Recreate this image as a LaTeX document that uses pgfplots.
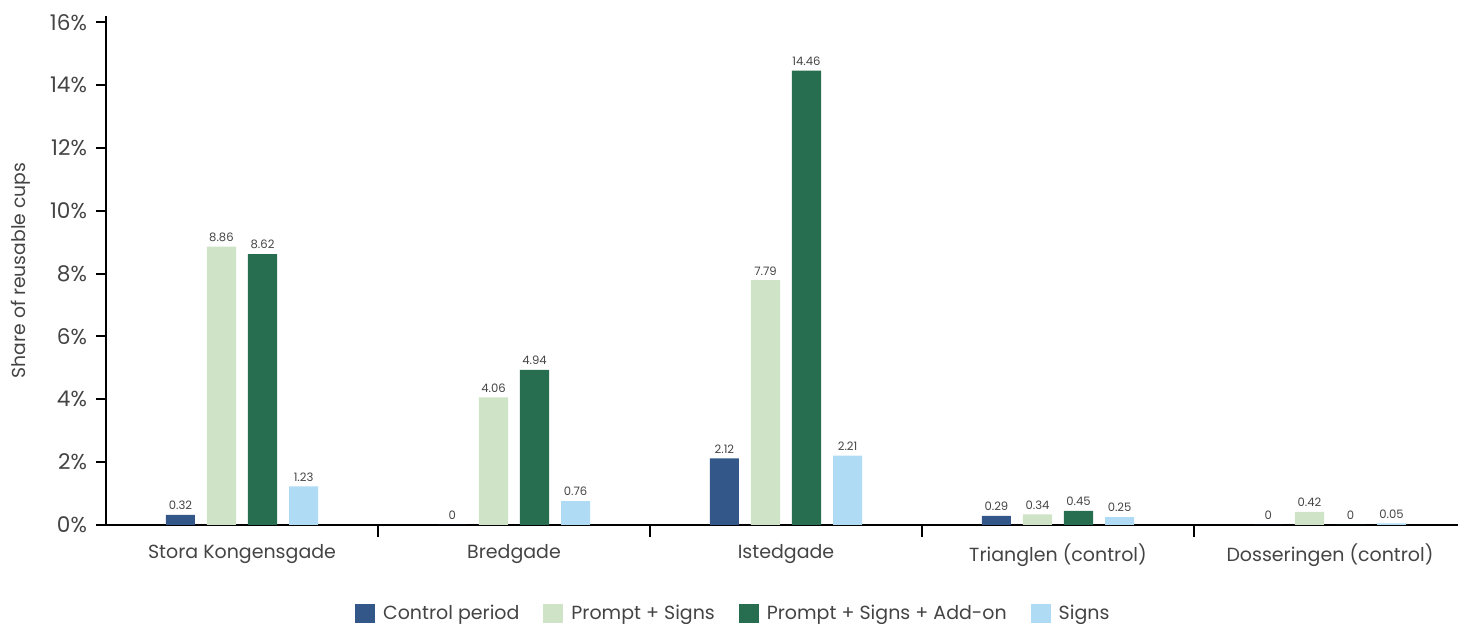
\documentclass[border=0pt]{standalone}
\usepackage{pgfplots}
\pgfplotsset{compat=1.18}
\usepackage{fontspec}
\setmainfont{Poppins}
\definecolor{cctrl}{HTML}{34578A}
\definecolor{cprompt}{HTML}{CFE4C6}
\definecolor{caddon}{HTML}{276E51}
\definecolor{csigns}{HTML}{B0DBF5}
\definecolor{txt}{HTML}{444444}
\begin{document}
\begin{tikzpicture}
% fixed page frame
\path[use as bounding box] (0,0) rectangle (729pt,312pt);
\begin{axis}[
  at={(53pt,49.5pt)}, anchor=south west,
  scale only axis,
  width=680pt, height=254.5pt,
  xmin=-0.5, xmax=4.5,
  ymin=0, ymax=16.2,
  axis x line*=bottom, axis y line*=left,
  axis line style={line width=1.1pt, -},
  xtick={0,1,2,3,4},
  xticklabels={Stora Kongensgade,Bredgade,Istedgade,Trianglen (control),Dosseringen (control)},
  major x tick style={draw=none},
  extra x ticks={0.5,1.5,2.5,3.5},
  extra x tick labels={},
  extra x tick style={major x tick style={draw=black, line width=1pt}, major tick length=6pt, tick align=outside},
  ytick={0,2,4,6,8,10,12,14,16},
  yticklabels={0\%,2\%,4\%,6\%,8\%,10\%,12\%,14\%,16\%},
  ytick style={line width=1pt,black},
  major tick length=5pt, tick align=outside,
  xticklabel style={font=\fontsize{9.5}{11}\selectfont, text=txt, yshift=-1pt},
  yticklabel style={font=\fontsize{10.8}{12}\selectfont, text=txt, xshift=-1pt},
  ylabel={Share of reusable cups},
  ylabel style={font=\fontsize{9.4}{11}\selectfont, text=txt, at={(axis description cs:-0.0625,0.5)}, anchor=center, rotate=0},
  ybar, bar width=0.107,
  point meta=explicit symbolic,
  nodes near coords,
  every node near coord/.append style={font=\fontsize{5.8}{7}\selectfont, text=txt, yshift=-1pt},
  legend style={at={(0.462,-0.174)}, anchor=center, draw=none, legend columns=-1,
    font=\fontsize{9.5}{11}\selectfont, text=txt,
    /tikz/every odd column/.append style={column sep=2pt},
    /tikz/every even column/.append style={column sep=10pt}},
  legend image code/.code={\fill[#1] (0pt,-4.5pt) rectangle (10pt,5pt);},
]
\addplot[fill=cctrl, draw=none, bar shift=-0.2265] coordinates {(0,0.32)[0.32] (1,0)[0] (2,2.12)[2.12] (3,0.29)[0.29] (4,0)[0]};
\addplot[fill=cprompt, draw=none, bar shift=-0.0755] coordinates {(0,8.86)[8.86] (1,4.06)[4.06] (2,7.79)[7.79] (3,0.34)[0.34] (4,0.42)[0.42]};
\addplot[fill=caddon, draw=none, bar shift=0.0755] coordinates {(0,8.62)[8.62] (1,4.94)[4.94] (2,14.46)[14.46] (3,0.45)[0.45] (4,0)[0]};
\addplot[fill=csigns, draw=none, bar shift=0.2265] coordinates {(0,1.23)[1.23] (1,0.76)[0.76] (2,2.21)[2.21] (3,0.25)[0.25] (4,0.05)[0.05]};
\legend{Control period,Prompt + Signs,Prompt + Signs + Add-on,Signs}
\end{axis}
\end{tikzpicture}
\end{document}
